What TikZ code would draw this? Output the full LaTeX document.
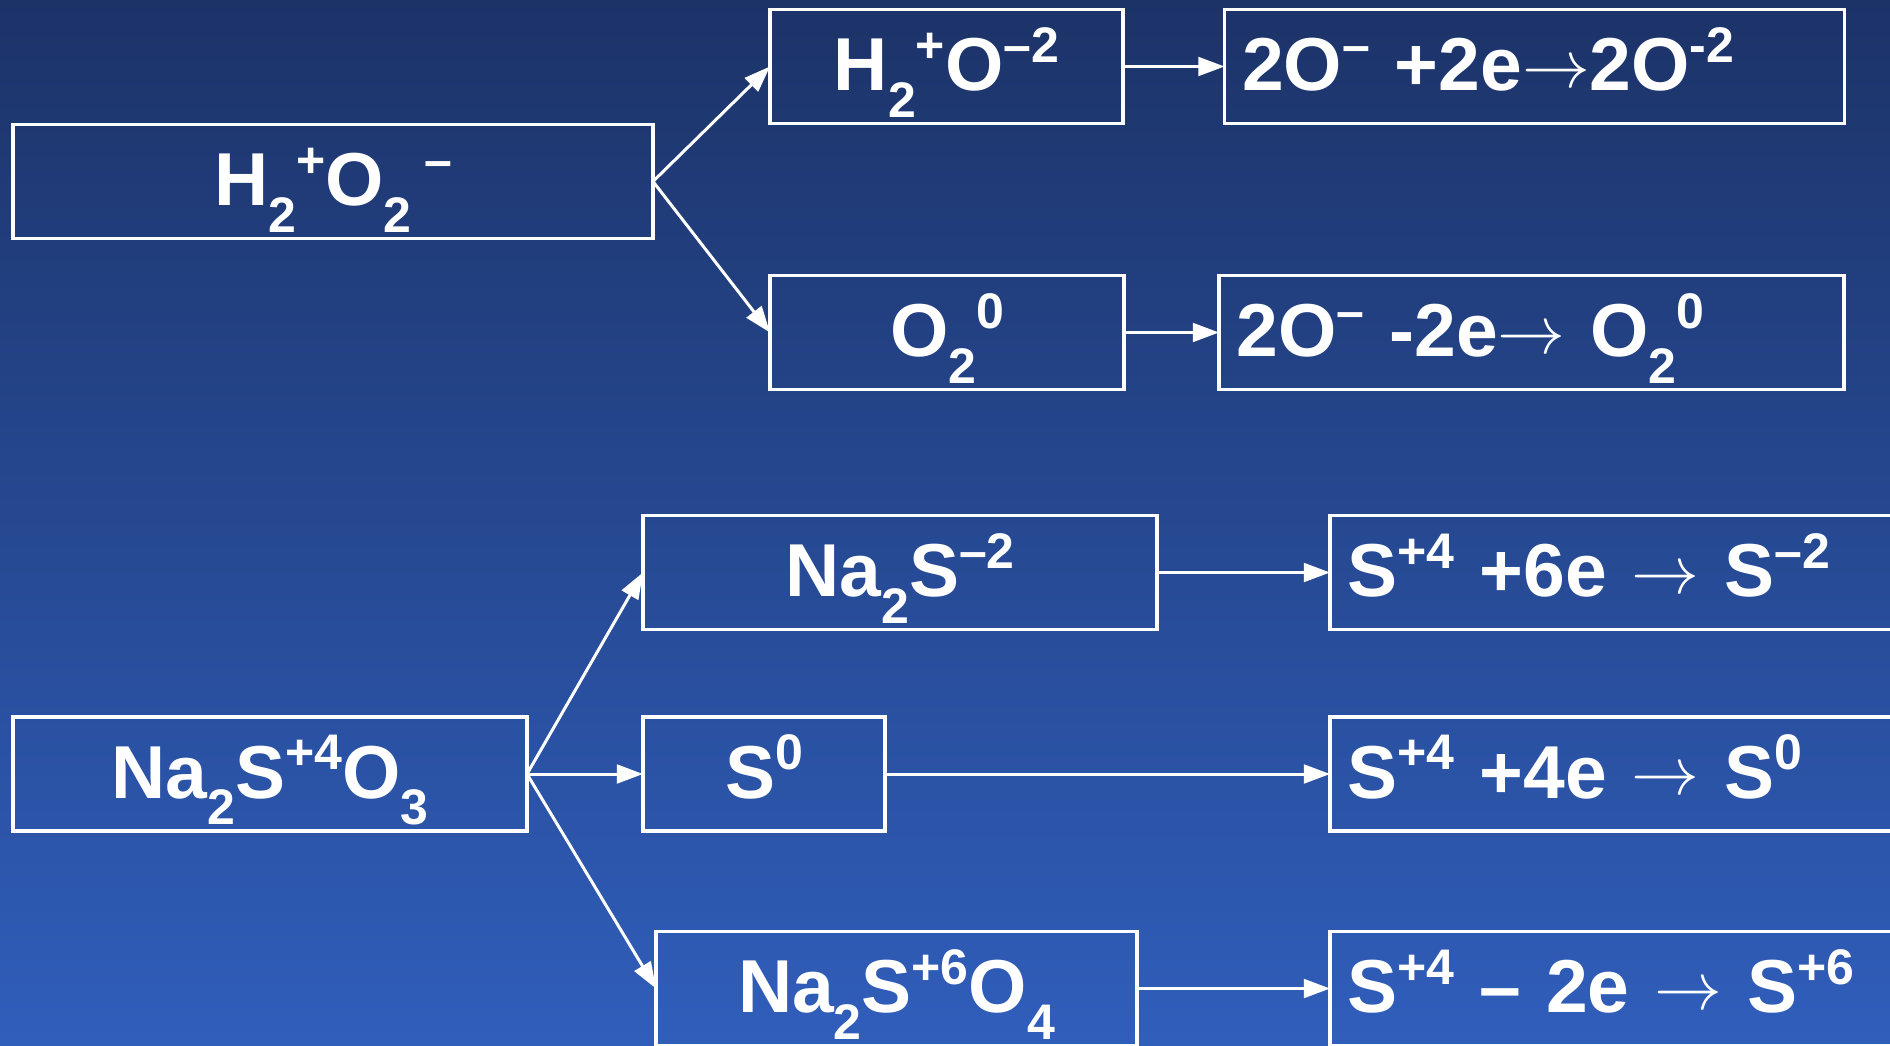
\documentclass[tikz,border=0pt]{standalone}
\usepackage{fontspec}
\usepackage{graphicx}
\setmainfont{Liberation Sans}
\usetikzlibrary{arrows.meta}
\definecolor{bgtop}{RGB}{28,51,104}
\definecolor{bgbot}{RGB}{48,94,187}
\newcommand\upx[1]{\raisebox{11.5pt}{\fontsize{20}{20}\selectfont #1}}
\newcommand\dnx[1]{\raisebox{-10.5pt}{\fontsize{20}{20}\selectfont #1}}
\newcommand\rarr{\raisebox{1.5pt}{\scalebox{1.09}{\fontsize{24.88}{24.88}\selectfont$\rightarrow$}}}
\begin{document}
\begin{tikzpicture}[x=0.4pt,y=-0.4pt,
  bx/.style={draw=white, line width=1.3pt, outer sep=0pt, inner xsep=7pt, inner ysep=0pt,
    text=white, font=\bfseries\fontsize{30}{30}\selectfont,
    text height=19.5pt, text depth=0pt, minimum height=45.6pt},
  ctr/.style={bx, align=center},
  lft/.style={bx, align=left},
  arr/.style={draw=white, line width=1.2pt, -{Triangle[length=10.5pt,width=7.5pt]}}]
\useasboundingbox (0,0) rectangle (1890,1045);
\shade[top color=bgtop, bottom color=bgbot] (0,0) rectangle (1890,1045);
\clip (0,0) rectangle (1890,1045);
% upper group
\node[ctr, minimum width=256pt] (A) at (333,181.5) {H\dnx{2}\upx{+}O\dnx{2}\,\upx{–}};
\node[ctr, minimum width=141.2pt] (B) at (946.5,66.5) {H\dnx{2}\upx{+}O\upx{–2}};
\node[lft, minimum width=248pt, text width=234pt] (C) at (1534.5,66.5) {2O\upx{–} +2e\rarr 2O\upx{-2}};
\node[ctr, minimum width=141.6pt] (D) at (947,332.5) {O\dnx{2}\upx{0}};
\node[lft, minimum width=250pt, text width=236pt] (E) at (1531.5,332.5) {2O\upx{–} -2e\rarr{} O\dnx{2}\upx{0}};
% lower group
\node[ctr, minimum width=205.6pt] (F) at (270,774) {Na\dnx{2}S\upx{+4}O\dnx{3}};
\node[ctr, minimum width=205.6pt] (G) at (900,572.5) {Na\dnx{2}S\upx{–2}};
\node[ctr, minimum width=96.8pt] (H) at (764,774) {S\upx{0}};
\node[ctr, minimum width=192.4pt] (I) at (896.5,988.5) {Na\dnx{2}S\upx{+6}O\dnx{4}};
\node[lft, minimum width=228pt, text width=214pt] (J) at (1615,572.5) {S\upx{+4} +6e \rarr{} S\upx{–2}};
\node[lft, minimum width=228pt, text width=214pt] (K) at (1615,774) {S\upx{+4} +4e \rarr{} S\upx{0}};
\node[lft, minimum width=228pt, text width=214pt] (L) at (1615,988.5) {S\upx{+4} – 2e \rarr{} S\upx{+6}};
% connectors
\draw[arr] (A.east) -- (B.west);
\draw[arr] (A.east) -- (D.west);
\draw[arr] (B.east) -- (C.west);
\draw[arr] (D.east) -- (E.west);
\draw[arr] (F.east) -- (G.west);
\draw[arr] (F.east) -- (H.west);
\draw[arr] (F.east) -- (I.west);
\draw[arr] (G.east) -- (J.west);
\draw[arr] (H.east) -- (K.west);
\draw[arr] (I.east) -- (L.west);
\end{tikzpicture}
\end{document}
